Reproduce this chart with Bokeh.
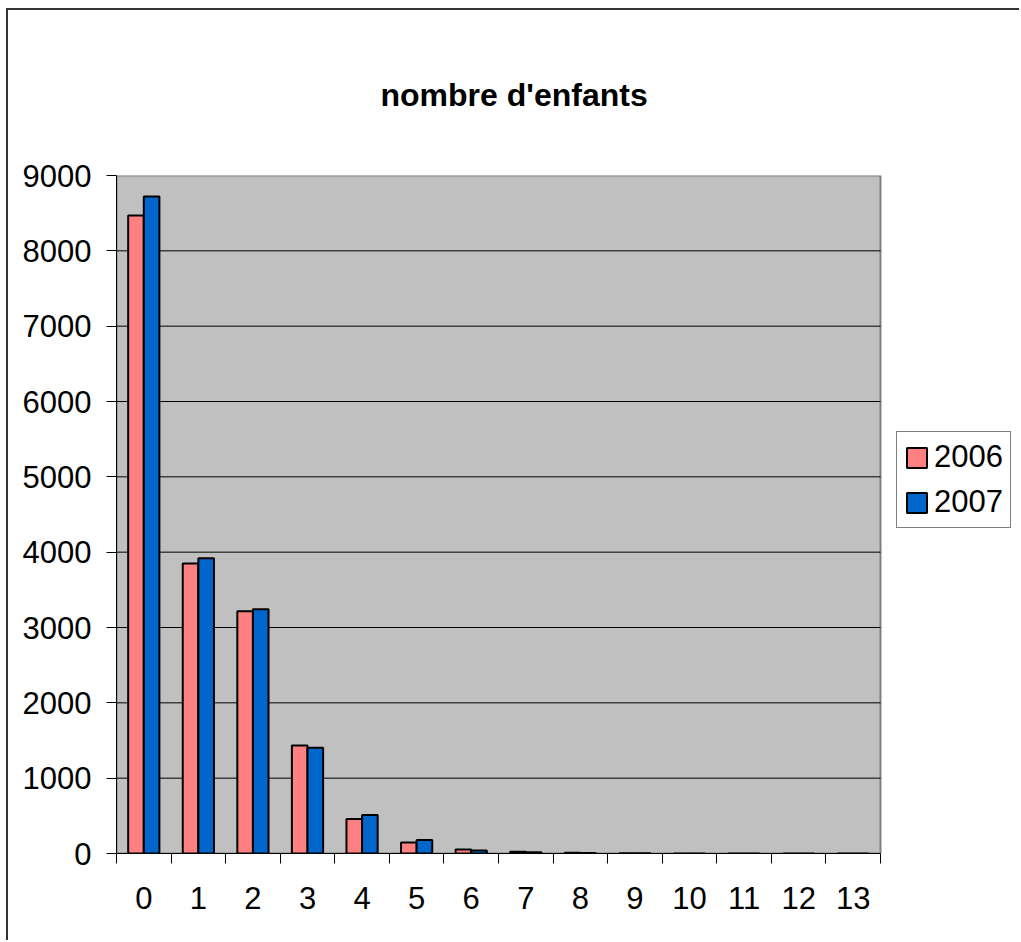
from bokeh.plotting import figure
from bokeh.models import Range1d, FixedTicker, LinearAxis, Legend, LegendItem, ColumnDataSource
from bokeh.embed import file_html
from bokeh.resources import INLINE

categories = ["0", "1", "2", "3", "4", "5", "6", "7", "8", "9", "10", "11", "12", "13"]
series_2006 = [8468, 3848, 3215, 1435, 457, 146, 53, 22, 10, 4, 1, 1, 0, 0]
series_2007 = [8720, 3920, 3242, 1403, 510, 178, 40, 18, 8, 3, 1, 0, 0, 0]
y_ticks = [0, 1000, 2000, 3000, 4000, 5000, 6000, 7000, 8000, 9000]

n = len(categories)
idx = list(range(n))
bw = 0.286
FONT = "Liberation Sans"

# layout (pixels): plot area 764 px wide, frame extended to hold the legend
PLOT_W = 764
FRAME_W = 905
x_lo = -0.5
x_hi = n - 0.5
x_end = x_lo + n * FRAME_W / PLOT_W
y_lo, y_hi = y_ticks[0], y_ticks[-1]

src = ColumnDataSource(data=dict(
    x06=[i - bw / 2 for i in idx],
    x07=[i + bw / 2 for i in idx],
    v06=series_2006,
    v07=series_2007,
))

p = figure(width=1013, height=932, output_backend="svg", toolbar_location=None,
           x_range=Range1d(x_lo, x_end), y_range=Range1d(y_lo, y_hi),
           min_border_left=108, min_border_right=0, min_border_top=165, min_border_bottom=89,
           styles={"margin-left": "6px", "margin-top": "8px",
                   "border-left": "2px solid #333333", "border-top": "2px solid #333333"})

p.background_fill_color = "white"
p.border_fill_color = "white"
p.outline_line_color = None
p.xgrid.grid_line_color = None
p.ygrid.grid_line_color = None

# plot area background + grid
p.quad(left=[x_lo], right=[x_hi], bottom=[y_lo], top=[y_hi],
       fill_color="#C0C0C0", line_color="#808080", line_width=2)
inner = y_ticks[1:-1]
p.segment(x0=[x_lo] * len(inner), x1=[x_hi] * len(inner), y0=inner, y1=inner,
          line_color="black", line_width=1)

p.title.text = "nombre d'enfants"
p.title.text_font = FONT
p.title.text_font_size = "32px"
p.title.text_font_style = "bold"
p.title.text_color = "black"
p.title.text_line_height = 1.0
p.title.align = "left"
p.title.offset = 264
p.title.standoff = 126

r1 = p.vbar(x="x06", top="v06", width=bw, source=src, fill_color="#FF8080", line_color="black", line_width=2)
r2 = p.vbar(x="x07", top="v07", width=bw, source=src, fill_color="#0066CC", line_color="black", line_width=2)

# y axis
p.yaxis.ticker = FixedTicker(ticks=y_ticks)
p.yaxis.major_tick_out = 10
p.yaxis.major_tick_in = 0
p.yaxis.minor_tick_line_color = None
p.yaxis.axis_line_color = "black"
p.yaxis.major_tick_line_color = "black"
p.yaxis.major_label_text_font = FONT
p.yaxis.major_label_text_font_size = "31px"
p.yaxis.major_label_text_color = "black"
p.yaxis.major_label_standoff = 15

# x axis: ticks at category boundaries, no labels
bounds = [i - 0.5 for i in range(n + 1)]
p.xaxis.ticker = FixedTicker(ticks=bounds)
p.xaxis.bounds = (x_lo, x_hi)
p.xaxis.major_label_overrides = {b: "" for b in bounds}
p.xaxis.major_label_text_font_size = "1px"
p.xaxis.major_label_standoff = 0
p.xaxis.major_tick_out = 10
p.xaxis.major_tick_in = 0
p.xaxis.minor_tick_line_color = None
p.xaxis.axis_line_color = "black"
p.xaxis.major_tick_line_color = "black"

lab_axis = LinearAxis(ticker=FixedTicker(ticks=idx), bounds=(x_lo, x_hi),
                      major_label_overrides={i: c for i, c in enumerate(categories)},
                      major_tick_line_color=None, minor_tick_line_color=None,
                      axis_line_color=None, major_label_text_font=FONT,
                      major_label_text_font_size="31px", major_label_text_color="black",
                      major_label_standoff=17)
p.add_layout(lab_axis, "below")

legend = Legend(items=[LegendItem(label="2006", renderers=[r1]),
                       LegendItem(label="2007", renderers=[r2])],
                location=(780, 325), orientation="vertical",
                border_line_color="black", border_line_width=1,
                background_fill_color="white", background_fill_alpha=1,
                label_text_font=FONT, label_text_font_size="31px", label_text_color="black",
                glyph_width=25, glyph_height=25, label_standoff=5,
                padding=7, spacing=9, margin=0, label_height=32)
p.add_layout(legend, "center")

open("out.html", "w").write(file_html(p, INLINE))
